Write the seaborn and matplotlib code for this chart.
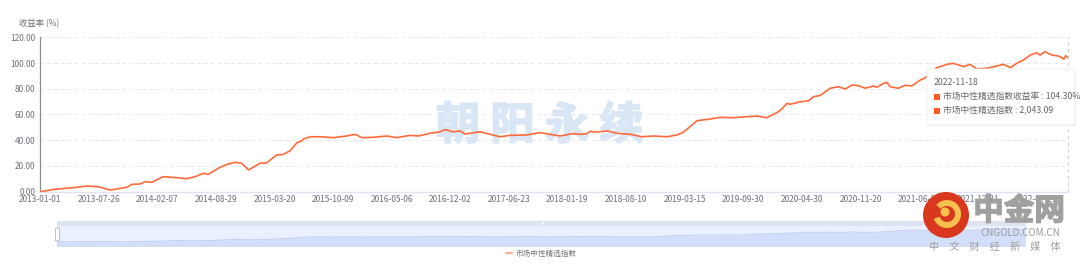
import numpy as np
import pandas as pd
import matplotlib
matplotlib.use("Agg")
import matplotlib.pyplot as plt
import matplotlib.patheffects as pe
import seaborn as sns
from matplotlib.patches import FancyBboxPatch, Rectangle, Circle, Wedge
from matplotlib.lines import Line2D

# ---------------- data ----------------
trade_day = [0, 35, 78, 110, 137, 165, 204, 216, 236, 247, 263, 290, 322, 346, 365,
             385, 396, 424, 443, 459, 475, 491, 518, 534, 557, 573, 589, 605, 616, 620,
             636, 659, 691, 722, 742, 758, 785, 817, 840, 871, 891, 919, 942, 954, 973,
             989, 1001, 1036, 1060, 1083, 1107, 1146, 1178, 1197, 1225, 1253, 1272, 1288,
             1295, 1311, 1338, 1358, 1390, 1417, 1444, 1476, 1500, 1515, 1547, 1578, 1602,
             1633, 1664, 1688, 1711, 1735, 1747, 1759, 1766, 1790, 1810, 1821, 1837, 1861,
             1880, 1896, 1912, 1927, 1943, 1963, 1971, 1982, 1994, 2002, 2021, 2037, 2053,
             2073, 2085, 2100, 2112, 2136, 2151, 2175, 2190, 2206, 2229, 2253, 2269, 2285,
             2300, 2316, 2332, 2347, 2355, 2366, 2383, 2399, 2411, 2415, 2420]
returns_pct = [0.0, 1.9, 3.1, 4.4, 3.9, 1.3, 3.4, 5.7, 6.0, 7.8, 7.3, 11.7, 10.9, 10.1, 11.7,
               14.3, 13.5, 19.0, 21.5, 22.8, 22.1, 16.9, 22.1, 22.5, 28.5, 29.0, 31.9, 38.1, 39.4, 40.9,
               42.7, 42.7, 42.0, 43.3, 44.6, 42.0, 42.3, 43.3, 42.0, 43.8, 43.3, 45.4, 46.6, 48.2, 46.6,
               47.2, 44.8, 46.6, 44.6, 42.7, 43.8, 44.1, 45.9, 44.8, 43.3, 45.1, 44.6, 45.1,
               46.9, 46.4, 47.2, 45.4, 44.6, 42.7, 43.3, 42.7, 44.1, 46.2, 55.2, 56.5, 57.8,
               57.5, 58.3, 58.8, 57.5, 61.4, 64.3, 68.7, 67.9, 69.9, 70.7, 73.8, 74.8, 80.4,
               81.6, 79.8, 82.9, 82.4, 80.4, 82.2, 81.1, 83.5, 85.0, 81.6, 80.4, 82.7, 82.2,
               86.8, 88.6, 93.3, 96.4, 99.0, 99.8, 97.2, 99.0, 95.4, 95.9, 97.7, 99.0, 96.4,
               99.8, 102.4, 106.2, 108.0, 106.2, 108.8, 106.2, 105.4, 103.1, 105.7, 104.3]
tick_labels = ["2013-01-01", "2013-07-26", "2014-02-07", "2014-08-29", "2015-03-20",
               "2015-10-09", "2016-05-06", "2016-12-02", "2017-06-23", "2018-01-19",
               "2018-08-10", "2019-03-15", "2019-09-30", "2020-04-30", "2020-11-20",
               "2021-06-10", "2021-12-31", "2022-07-29"]
y_ticks = [0, 20, 40, 60, 80, 100, 120]
series_name = "市场中性精选指数"
tip_date = "2022-11-18"
tip_return = "104.30%"
tip_index = "2,043.09"

# ---------------- style ----------------
sns.set_theme(style="white")
plt.rcParams["font.family"] = ["Noto Sans CJK SC", "DejaVu Sans"]
LINE = "#ff6a3a"
TXT = "#6e7079"
W, H = 1080, 265

def fx(px):
    return px / W

def fy(py):
    return 1 - py / H

df = pd.DataFrame({"day": trade_day, "ret": returns_pct})
label_step = 138
x_max = trade_day[-1]

fig = plt.figure(figsize=(W / 100, H / 100), dpi=100)
fig.patch.set_facecolor("white")

# ---------------- main chart ----------------
ax = fig.add_axes([fx(40), fy(191.7), fx(1027.7), 154.4 / H])
ax.set_facecolor("none")
sns.lineplot(data=df, x="day", y="ret", ax=ax, color=LINE, linewidth=1.2, zorder=3)
ax.set_xlim(0, x_max)
ax.set_ylim(0, 120)
ax.set_yticks(y_ticks)
ax.set_yticklabels([f"{v:.2f}" for v in y_ticks])
ax.set_xticks([i * label_step for i in range(len(tick_labels))])
ax.set_xticklabels(tick_labels)
ax.set_xlabel("")
ax.set_ylabel("")
ax.tick_params(axis="both", length=0, labelsize=6, colors=TXT)
ax.tick_params(axis="y", pad=3.5)
ax.tick_params(axis="x", pad=2.5)
ax.grid(axis="y", color="#e6e9f2", linestyle=(0, (4, 3)), linewidth=0.7)
ax.grid(axis="x", visible=False)
for s in ["top", "right"]:
    ax.spines[s].set_visible(False)
ax.spines["left"].set_color("#8c8c8c")
ax.spines["left"].set_linewidth(0.9)
ax.spines["bottom"].set_color("#e0e3f3")
ax.spines["bottom"].set_linewidth(1.0)
ax.axvline(x_max, color="#cfcfcf", linestyle=(0, (3, 3)), linewidth=0.8, clip_on=False, zorder=2)

# watermark
ax.text(0.4865, 0.425, "朝 阳 永 续", transform=ax.transAxes, ha="center", va="center",
        fontsize=32, fontweight="bold", color="#d9e6f6", zorder=0.5,
        path_effects=[pe.withStroke(linewidth=1.2, foreground="#d9e6f6")])

# y axis name
fig.text(fx(39), fy(23.3), "收益率 (%)", ha="center", va="center", fontsize=6, color=TXT)

# ---------------- tooltip ----------------
shadow = FancyBboxPatch((fx(928), fy(126)), fx(148), 56 / H,
                        boxstyle="round,pad=0,rounding_size=0.004",
                        transform=fig.transFigure, facecolor="#000000", alpha=0.06,
                        edgecolor="none", zorder=8)
fig.add_artist(shadow)
box = FancyBboxPatch((fx(927), fy(125)), fx(148), 56 / H,
                     boxstyle="round,pad=0,rounding_size=0.004",
                     transform=fig.transFigure, facecolor="white",
                     edgecolor="#ececec", linewidth=0.6, zorder=9)
fig.add_artist(box)
fig.text(fx(934), fy(82.5), tip_date, ha="left", va="center", fontsize=6.3, color="#666666", zorder=10)
for yy, lab in [(96.5, f"{series_name}收益率 : {tip_return}"), (110.5, f"{series_name} : {tip_index}")]:
    fig.add_artist(Rectangle((fx(934), fy(yy + 3)), fx(6), 6 / H, transform=fig.transFigure,
                             facecolor="#ff5a26", edgecolor="none", zorder=10))
    fig.text(fx(943), fy(yy), lab, ha="left", va="center", fontsize=6.3, color="#666666", zorder=10)

# ---------------- data zoom slider ----------------
ax2 = fig.add_axes([fx(57), fy(246), fx(968), 25 / H])
ax2.set_facecolor("#eaf0fd")
ax2.fill_between(trade_day, returns_pct, -40, color="#d3dffa", linewidth=0, zorder=1)
sns.lineplot(data=df, x="day", y="ret", ax=ax2, color="#bccbf2", linewidth=0.6, zorder=2)
ax2.add_patch(Rectangle((0, 0.8), 1, 0.2, transform=ax2.transAxes, facecolor="#dde3f2",
                        edgecolor="none", zorder=3))
ax2.set_xlim(0, x_max)
ax2.set_ylim(-33.5, 175.7)
ax2.set_xticks([])
ax2.set_yticks([])
ax2.set_xlabel("")
ax2.set_ylabel("")
for s in ax2.spines.values():
    s.set_color("#d6dcec")
    s.set_linewidth(0.6)
fig.add_artist(FancyBboxPatch((fx(55.5), fy(241)), fx(4), 13 / H,
                              boxstyle="round,pad=0,rounding_size=0.002",
                              transform=fig.transFigure, facecolor="white",
                              edgecolor="#a9b5cf", linewidth=0.6, zorder=5))
fig.add_artist(Circle((5.43, fy(223.5) * H / 100), 0.012, transform=fig.dpi_scale_trans,
                      facecolor="white", edgecolor="none", zorder=5))

# ---------------- legend ----------------
fig.legend(handles=[Line2D([], [], color=LINE, linewidth=1.6, alpha=0.55)], labels=[series_name],
           loc="center", bbox_to_anchor=(fx(541), fy(254)), frameon=False, fontsize=5.5,
           handlelength=0.9, handletextpad=0.4, labelcolor="#777777")

# ---------------- CNGOLD logo watermark ----------------
cx, cy = 9.46, fy(215) * H / 100
fig.add_artist(Circle((cx, cy), 0.23, transform=fig.dpi_scale_trans,
                      facecolor="#d9381e", edgecolor="none", zorder=11))
fig.add_artist(Wedge((cx + 0.01, cy + 0.01), 0.14, 200, 500, width=0.06, transform=fig.dpi_scale_trans,
                     facecolor="#f6c14c", edgecolor="none", zorder=12))
fig.add_artist(Circle((cx - 0.01, cy + 0.03), 0.045, transform=fig.dpi_scale_trans,
                      facecolor="#f6c14c", edgecolor="none", zorder=12))
fig.text(fx(1019), fy(211), "中金网", ha="center", va="center", fontsize=22, fontweight="bold",
         color="#a0a0a0", zorder=12,
         path_effects=[pe.withStroke(linewidth=1.0, foreground="#a0a0a0")])
fig.text(fx(1020), fy(233.5), "CNGOLD.COM.CN", ha="center", va="center", fontsize=7,
         color="#9a9a9a", zorder=12)
fig.text(fx(995), fy(247), "中\u3000文\u3000财\u3000经\u3000新\u3000媒\u3000体", ha="center", va="center",
         fontsize=7.3, color="#a0a0a0", zorder=12)

fig.savefig("out.png", dpi=100)
